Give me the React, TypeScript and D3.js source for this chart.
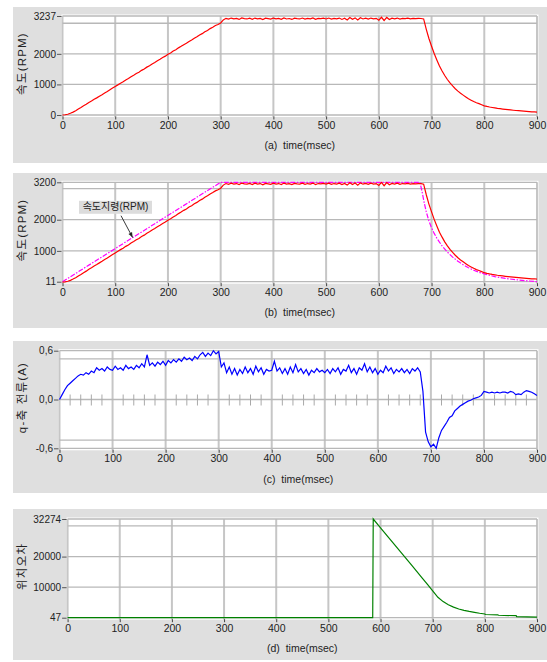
import * as d3 from 'd3';
import React, { useEffect, useRef } from 'react';

// sampling step of the measured traces (msec)
const TIME_STEP = 5;

// (a),(b) measured speed, RPM, every 5 msec from 0 to 900
const speedRpm = [
  0, 8, 25, 55, 95, 140, 195, 245, 300, 350,
  410, 455, 515, 560, 615, 665, 720, 770, 825, 880,
  935, 985, 1040, 1085, 1145, 1190, 1250, 1300, 1355, 1400,
  1460, 1505, 1565, 1610, 1670, 1720, 1775, 1825, 1880, 1925,
  1985, 2030, 2090, 2135, 2195, 2245, 2300, 2345, 2405, 2450,
  2510, 2555, 2615, 2660, 2720, 2765, 2825, 2870, 2925, 2960,
  3010, 3110, 3160, 3135, 3170, 3145, 3160, 3125, 3175, 3150,
  3140, 3165, 3130, 3170, 3145, 3160, 3120, 3165, 3150, 3135,
  3170, 3145, 3160, 3130, 3175, 3140, 3155, 3125, 3165, 3150,
  3140, 3170, 3135, 3160, 3145, 3175, 3130, 3160, 3150, 3165,
  3140, 3170, 3135, 3160, 3145, 3170, 3125, 3165, 3110, 3185,
  3130, 3175, 3105, 3180, 3140, 3165, 3135, 3170, 3145, 3160,
  3100, 3195, 3090, 3190, 3120, 3165, 3145, 3170, 3135, 3160,
  3150, 3165, 3145, 3160, 3150, 3160, 3155, 3140, 2800, 2500,
  2250, 2010, 1800, 1600, 1440, 1290, 1160, 1050, 950, 860,
  780, 710, 650, 590, 530, 485, 440, 400, 370, 335,
  300, 280, 262, 246, 232, 218, 206, 195, 184, 174,
  165, 156, 148, 140, 132, 125, 118, 110, 100, 105,
  92,
];

// (b) speed command
const cmdTime = [0, 300, 678, 682, 686, 690, 695, 700, 705, 710, 715, 720, 730, 740, 750, 760, 770, 780, 790, 800, 820, 840, 860, 880, 900];
const cmdRpm = [11, 3200, 3200, 2900, 2550, 2250, 1960, 1740, 1560, 1410, 1280, 1160, 960, 800, 665, 555, 460, 380, 315, 260, 175, 115, 75, 40, 12];

// (c) q-axis current, A, every 5 msec
const currentA = [
  0.00, 0.06, 0.12, 0.17, 0.20, 0.23, 0.26, 0.29, 0.31, 0.30,
  0.33, 0.31, 0.35, 0.33, 0.39, 0.36, 0.38, 0.35, 0.40, 0.37,
  0.36, 0.41, 0.37, 0.39, 0.36, 0.42, 0.38, 0.40, 0.37, 0.42,
  0.39, 0.44, 0.40, 0.55, 0.42, 0.45, 0.41, 0.46, 0.43, 0.47,
  0.42, 0.48, 0.45, 0.49, 0.46, 0.50, 0.47, 0.52, 0.49, 0.51,
  0.48, 0.53, 0.50, 0.55, 0.58, 0.53, 0.57, 0.54, 0.60, 0.56,
  0.59, 0.40, 0.45, 0.33, 0.40, 0.31, 0.38, 0.30, 0.37, 0.32,
  0.40, 0.33, 0.38, 0.31, 0.41, 0.34, 0.39, 0.31, 0.37, 0.35,
  0.36, 0.47, 0.35, 0.39, 0.32, 0.38, 0.31, 0.40, 0.33, 0.43,
  0.34, 0.38, 0.32, 0.37, 0.30, 0.36, 0.33, 0.38, 0.34, 0.36,
  0.33, 0.37, 0.32, 0.38, 0.34, 0.39, 0.31, 0.37, 0.35, 0.42,
  0.33, 0.38, 0.31, 0.39, 0.36, 0.44, 0.34, 0.40, 0.33, 0.38,
  0.31, 0.36, 0.33, 0.41, 0.35, 0.39, 0.32, 0.37, 0.34, 0.38,
  0.33, 0.37, 0.32, 0.38, 0.35, 0.39, 0.34, 0.10, -0.40, -0.52,
  -0.58, -0.55, -0.60, -0.47, -0.38, -0.33, -0.28, -0.22, -0.20, -0.14,
  -0.11, -0.08, -0.06, -0.04, -0.02, -0.01, 0.01, 0.02, 0.03, 0.05,
  0.10, 0.09, 0.08, 0.09, 0.08, 0.09, 0.08, 0.09, 0.09, 0.08,
  0.10, 0.09, 0.06, 0.07, 0.06, 0.09, 0.11, 0.10, 0.09, 0.07,
  0.05,
];

// (d) position error
const posTime = [0, 585, 586, 600, 620, 640, 660, 680, 690, 700, 710, 720, 730, 740, 750, 760, 770, 780, 790, 800, 801, 825, 826, 860, 861, 900];
const posErr = [47, 47, 32274, 29400, 25300, 21200, 17100, 13000, 10900, 8800, 6700, 5300, 4300, 3500, 2900, 2450, 2100, 1800, 1500, 1250, 1100, 1000, 850, 700, 400, 250];

const timeTicks = [0, 100, 200, 300, 400, 500, 600, 700, 800, 900];
const speedTime = speedRpm.map((_, i) => i * TIME_STEP);
const currentTime = currentA.map((_, i) => i * TIME_STEP);

const FONT = '"Liberation Sans", Arial, "Noto Sans CJK KR", sans-serif';

const panels = [
  {
    bg: [7, 163], left: 62.5, top: 16, bottom: 115,
    domain: [0, 3237], ticks: [0, 1000, 2000, 3237], grid: [0, 1000, 2000, 3000, 3237],
    fmt: (d) => String(d), label: '속도(RPM)', caption: '(a)  time(msec)',
    series: [{ t: speedTime, v: speedRpm, color: '#ff0000' }],
  },
  {
    bg: [173, 328], left: 62.5, top: 182.3, bottom: 281.7,
    domain: [11, 3200], ticks: [11, 1000, 2000, 3200], grid: [11, 1000, 2000, 3000, 3200],
    fmt: (d) => String(d), label: '속도(RPM)', caption: '(b)  time(msec)',
    series: [
      { t: cmdTime, v: cmdRpm, color: '#ff00ff', dash: '5,1.5,1.5,1.5' },
      { t: speedTime, v: speedRpm, color: '#ff0000' },
    ],
    note: { text: '속도지령(RPM)', tail: [111, 2128], tip: [133, 1430] },
  },
  {
    bg: [341, 493], left: 59.5, top: 350.7, bottom: 448.3,
    domain: [-0.6, 0.6], ticks: [-0.6, 0, 0.6], grid: [-0.6, -0.5, 0, 0.5, 0.6],
    fmt: (d) => d.toFixed(1).replace('.', ','), label: 'q-축 전류(A)', caption: '(c)  time(msec)',
    series: [{ t: currentTime, v: currentA, color: '#0000ff' }],
    minorTicks: true,
  },
  {
    bg: [509, 660], left: 67.6, top: 519, bottom: 617.7,
    domain: [47, 32274], ticks: [47, 10000, 20000, 32274], grid: [47, 10000, 20000, 30000, 32274],
    fmt: (d) => String(d), label: '위치오차', caption: '(d)  time(msec)',
    series: [{ t: posTime, v: posErr, color: '#008000' }],
  },
];

const RIGHT = 537;

function drawPanel(svg, p) {
  const g = svg.append('g');
  g.append('rect')
    .attr('x', 13).attr('y', p.bg[0])
    .attr('width', 547 - 13).attr('height', p.bg[1] - p.bg[0])
    .attr('fill', '#dfdfdf');

  const x = d3.scaleLinear().domain([0, 900]).range([p.left, RIGHT]);
  const y = d3.scaleLinear().domain(p.domain).range([p.bottom, p.top]);

  g.append('rect')
    .attr('x', p.left - 1).attr('y', p.top - 1.5)
    .attr('width', RIGHT - p.left + 2.5).attr('height', p.bottom - p.top + 3.5)
    .attr('fill', '#ffffff');

  // grid
  g.selectAll('.vg').data(timeTicks).join('line')
    .attr('x1', d => x(d)).attr('x2', d => x(d))
    .attr('y1', p.top).attr('y2', p.bottom + 2)
    .attr('stroke', '#c6c6c6').attr('stroke-width', 2);
  g.selectAll('.hg').data(p.grid).join('line')
    .attr('x1', p.left).attr('x2', RIGHT)
    .attr('y1', d => y(d)).attr('y2', d => y(d))
    .attr('stroke', '#b8b8b8').attr('stroke-width', 1.3);

  if (p.minorTicks) {
    g.selectAll('.mt').data(d3.range(20, 900, 20).filter(d => d % 100 !== 0)).join('line')
      .attr('x1', d => x(d)).attr('x2', d => x(d))
      .attr('y1', y(0) - 5).attr('y2', y(0) + 6)
      .attr('stroke', '#a9a9a9').attr('stroke-width', 1);
  }

  // traces
  p.series.forEach(s => {
    const line = d3.line<number>()
      .x(i => x(s.t[i]))
      .y(i => y(s.v[i]));
    g.append('path')
      .attr('d', line(d3.range(s.v.length)))
      .attr('fill', 'none')
      .attr('stroke', s.color)
      .attr('stroke-width', 1.2)
      .attr('stroke-dasharray', s.dash || null);
  });

  // y axis
  const ya = g.append('g')
    .attr('transform', `translate(${p.left},0)`)
    .call(d3.axisLeft(y).tickValues(p.ticks).tickFormat(p.fmt).tickSize(5).tickPadding(1.5));
  ya.select('.domain').remove();
  ya.selectAll('line').attr('stroke', '#555').attr('x2', -1).attr('x1', -5.5);
  ya.selectAll('text').attr('font-family', FONT).attr('font-size', 10).attr('fill', '#222');

  // x axis
  const xa = g.append('g')
    .attr('transform', `translate(0,${p.bottom + 1.5})`)
    .call(d3.axisBottom(x).tickValues(timeTicks).tickSize(3).tickPadding(2));
  xa.select('.domain').remove();
  xa.selectAll('line').attr('stroke', '#444');
  xa.selectAll('text').attr('font-family', FONT).attr('font-size', 10.5).attr('fill', '#222');

  g.append('text')
    .attr('x', (p.left + RIGHT) / 2).attr('y', p.bottom + 31.5)
    .attr('text-anchor', 'middle').attr('dominant-baseline', 'middle')
    .style('white-space', 'pre')
    .attr('font-family', FONT).attr('font-size', 10.5).attr('fill', '#222')
    .text(p.caption);

  g.append('text')
    .attr('transform', `translate(23,${(p.top + p.bottom) / 2 - 2}) rotate(-90)`)
    .attr('text-anchor', 'middle').attr('dominant-baseline', 'middle')
    .attr('font-family', FONT).attr('font-size', 11.5).attr('letter-spacing', 1.2).attr('fill', '#222')
    .text(p.label);

  if (p.note) {
    const bx = p.left + 16.5, by = p.top + 18.5;
    g.append('rect')
      .attr('x', bx).attr('y', by).attr('width', 73).attr('height', 13)
      .attr('fill', '#dcdcdc');
    g.append('text')
      .attr('x', bx + 36.5).attr('y', by + 7)
      .attr('text-anchor', 'middle').attr('dominant-baseline', 'middle')
      .attr('font-family', FONT).attr('font-size', 10).attr('fill', '#222')
      .text(p.note.text);
    const x1 = x(p.note.tail[0]), y1 = y(p.note.tail[1]);
    const x2 = x(p.note.tip[0]), y2 = y(p.note.tip[1]);
    g.append('line')
      .attr('x1', x1).attr('y1', y1).attr('x2', x2).attr('y2', y2)
      .attr('stroke', '#222').attr('stroke-width', 0.9);
    const ang = Math.atan2(y2 - y1, x2 - x1);
    const hl = 5, hw = 2;
    const pts = [
      [x2, y2],
      [x2 - hl * Math.cos(ang) + hw * Math.sin(ang), y2 - hl * Math.sin(ang) - hw * Math.cos(ang)],
      [x2 - hl * Math.cos(ang) - hw * Math.sin(ang), y2 - hl * Math.sin(ang) + hw * Math.cos(ang)],
    ];
    g.append('path').attr('d', `M${pts.map(q => q.join(',')).join('L')}Z`).attr('fill', '#222');
  }
}

const App = () => {
  const ref = useRef<SVGSVGElement>(null);

  useEffect(() => {
    if (!ref.current) return;
    const svg = d3.select(ref.current);
    svg.selectAll('*').remove();
    panels.forEach(p => drawPanel(svg, p));
  }, []);

  return (
    <svg
      ref={ref}
      width={547}
      height={662}
      style={{ position: 'absolute', left: 0, top: 0, background: '#ffffff' }}
    />
  );
};

export default App;
